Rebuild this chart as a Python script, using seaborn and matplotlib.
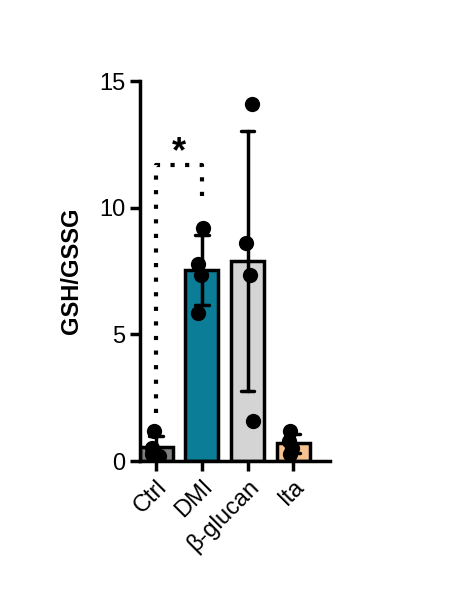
import matplotlib
matplotlib.use("Agg")
import matplotlib.pyplot as plt
import seaborn as sns
import pandas as pd

categories = ["Ctrl", "DMI", "β-glucan", "Ita"]
ctrl = [1.2, 0.3, 0.2, 0.5]
dmi = [9.2, 7.8, 7.35, 5.85]
bglucan = [14.1, 8.6, 7.35, 1.6]
ita = [1.2, 0.8, 0.3, 0.5]
colors = ["#7f7f7f", "#0b7d96", "#d4d4d4", "#f7c28f"]

rows = []
for c, vals in zip(categories, [ctrl, dmi, bglucan, ita]):
    for v in vals:
        rows.append({"group": c, "value": v})
df = pd.DataFrame(rows)

sns.set_style("ticks")
plt.rcParams['font.family'] = ['Liberation Sans', 'DejaVu Sans']
plt.rcParams['text.color'] = 'black'
plt.rcParams['axes.labelcolor'] = 'black'
plt.rcParams['xtick.color'] = 'black'
plt.rcParams['ytick.color'] = 'black'
plt.rcParams['axes.edgecolor'] = 'black'
fig = plt.figure(figsize=(4.7, 5.92), dpi=100)
ax = fig.add_axes([0.298, 0.221, 0.404, 0.642])

sns.barplot(data=df, x="group", y="value", hue="group", palette=colors, order=categories,
            errorbar="sd", capsize=0.3, err_kws={"color": "black", "linewidth": 2.5},
            edgecolor="black", linewidth=2.5, width=0.72, saturation=1, legend=False, ax=ax)
sns.stripplot(data=df, x="group", y="value", order=categories, color="black", size=11,
              jitter=0.12, ax=ax, zorder=5)

# significance bracket
ax.plot([0, 0, 1, 1], [1.9, 11.7, 11.7, 10.1], color="black", linestyle=(0, (1, 2.5)),
        linewidth=3)
ax.text(0.5, 11.5, "*", ha="center", va="bottom", fontsize=26, fontweight="bold")

ax.set_xlim(-0.35, 3.8)
ax.set_ylim(0, 15)
ax.set_yticks([0, 5, 10, 15])
ax.set_xlabel("")
ax.set_ylabel("GSH/GSSG", fontsize=17, fontweight="bold", labelpad=12)
ax.tick_params(axis="both", labelsize=17, width=2.5, length=7, colors="black")
plt.setp(ax.get_xticklabels(), rotation=45, ha="right", rotation_mode="anchor")
for s in ["top", "right"]:
    ax.spines[s].set_visible(False)
for s in ["left", "bottom"]:
    ax.spines[s].set_linewidth(2.5)
ax.spines["left"].set_bounds(0, 15)
fig.savefig("out.png", dpi=100)
